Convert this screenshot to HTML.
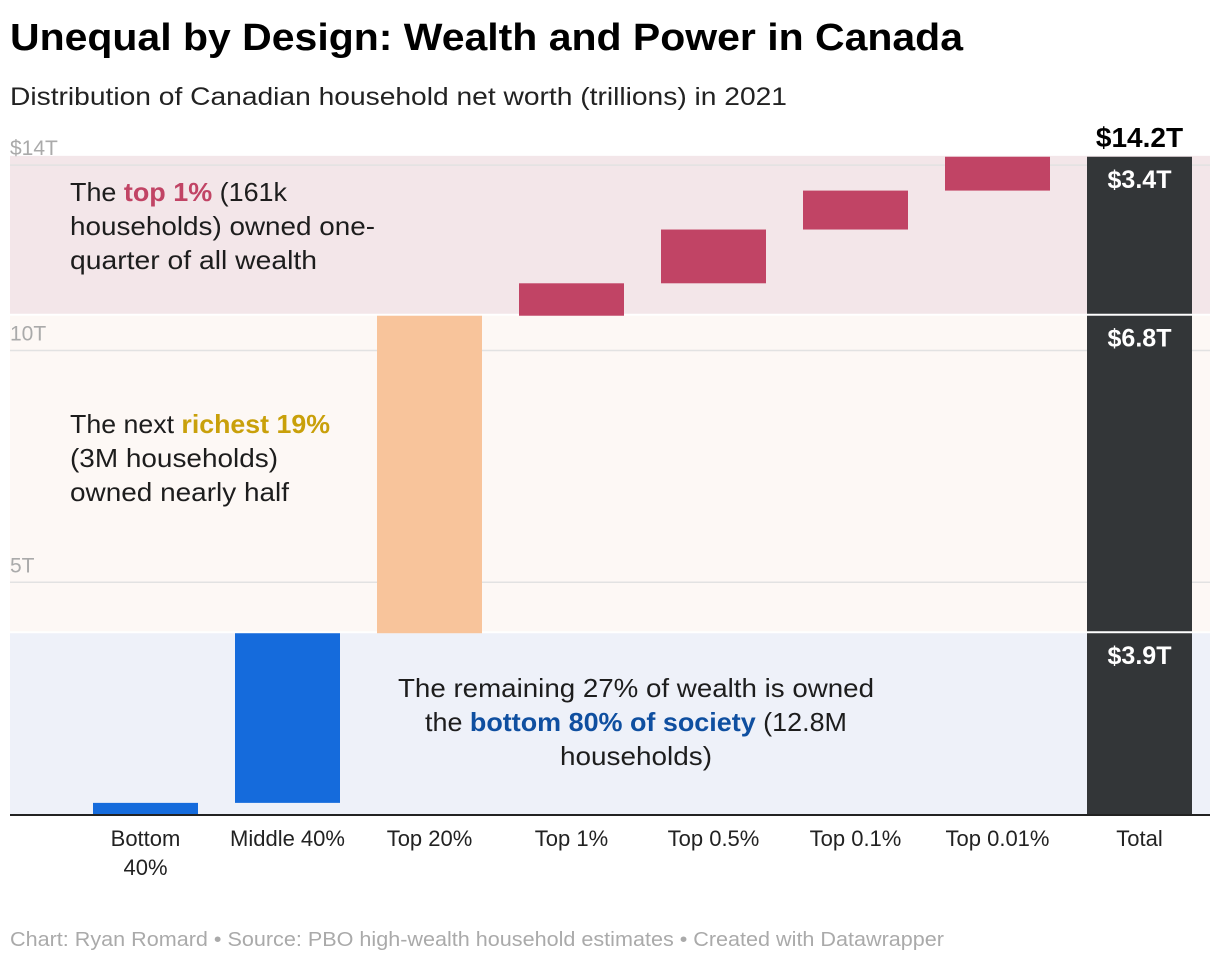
<!DOCTYPE html>
<html><head><meta charset="utf-8"><style>
body{margin:0;background:#fff;font-family:"Liberation Sans",sans-serif;}
</style></head><body>
<svg width="1220" height="964" xmlns="http://www.w3.org/2000/svg" font-family="Liberation Sans, sans-serif">
<text x="10" y="50" font-size="38" font-weight="bold" fill="#000" textLength="953" lengthAdjust="spacingAndGlyphs">Unequal by Design: Wealth and Power in Canada</text>
<text x="10" y="105" font-size="25" fill="#222" textLength="777" lengthAdjust="spacingAndGlyphs">Distribution of Canadian household net worth (trillions) in 2021</text>
<g id="bands"></g>
<g id="grid"></g>
<g id="bars"></g>
<g font-size="26" fill="#1d1d1d">
<text x="70" y="201" textLength="217" lengthAdjust="spacingAndGlyphs">The <tspan fill="#c14465" font-weight="bold">top 1%</tspan> (161k</text>
<text x="70" y="235" textLength="305" lengthAdjust="spacingAndGlyphs">households) owned one-</text>
<text x="70" y="269" textLength="247" lengthAdjust="spacingAndGlyphs">quarter of all wealth</text>
</g>
<g font-size="26" fill="#1d1d1d">
<text x="70" y="433" textLength="260" lengthAdjust="spacingAndGlyphs">The next <tspan fill="#c9a00a" font-weight="bold">richest 19%</tspan></text>
<text x="70" y="467" textLength="208" lengthAdjust="spacingAndGlyphs">(3M households)</text>
<text x="70" y="501" textLength="219" lengthAdjust="spacingAndGlyphs">owned nearly half</text>
</g>
<g font-size="26" fill="#1d1d1d">
<text x="398" y="697" textLength="476" lengthAdjust="spacingAndGlyphs">The remaining 27% of wealth is owned</text>
<text x="425" y="731" textLength="422" lengthAdjust="spacingAndGlyphs">the <tspan fill="#0f4fa0" font-weight="bold">bottom 80% of society</tspan> (12.8M</text>
<text x="560" y="765" textLength="152" lengthAdjust="spacingAndGlyphs">households)</text>
</g>
<g id="xlabels" font-size="22" fill="#222" text-anchor="middle"></g>
<line x1="10" x2="1210" y1="815" y2="815" stroke="#222" stroke-width="2"/>
<text x="10" y="946" font-size="20" fill="#aaa" textLength="934" lengthAdjust="spacingAndGlyphs">Chart: Ryan Romard • Source: PBO high-wealth household estimates • Created with Datawrapper</text>
</svg>
<script>
const categories=["Bottom 40%","Middle 40%","Top 20%","Top 1%","Top 0.5%","Top 0.1%","Top 0.01%","Total"];
const increments=[0.24,3.66,6.85,0.70,1.16,0.84,0.73];
const totalValue=14.18;
const bandLimits=[0,3.9,10.75,14.2];
const bandLabels=["$3.9T","$6.8T","$3.4T"];
const tickValues=[5,10,14];
const tickLabels=["5T","10T","$14T"];
const NS="http://www.w3.org/2000/svg";
const y=v=>814-v*46.35;
const x=i=>93+i*142;
const W=105;
function mk(p,tag,a){const e=document.createElementNS(NS,tag);for(const k in a)e.setAttribute(k,a[k]);document.getElementById(p).appendChild(e);return e;}
const bandColors=["#eef1f9","#fdf8f5","#f3e6e9"];
for(let b=0;b<3;b++){
 const top=y(bandLimits[b+1]),bot=y(bandLimits[b]);
 const r=mk("bands","rect",{x:10,y:top,width:1200,height:bot-top-(b>0?2:0),fill:bandColors[b]});
 
 
}
tickValues.forEach((v,i)=>{
 const l=mk("grid","line",{x1:10,x2:1210,y1:y(v),y2:y(v),stroke:"#e2e2e2","stroke-width":1.5});
 
 
 const t=mk("grid","text",{x:10,y:y(v)-10,"font-size":21,fill:"#aaa"});t.textContent=tickLabels[i];
 
 
});
const barColors=["#156bdc","#156bdc","#f8c49b","#c14465","#c14465","#c14465","#c14465"];
let cum=0;
increments.forEach((d,i)=>{
 const top=y(cum+d),bot=y(cum);cum+=d;
 const r=mk("bars","rect",{x:x(i),y:top,width:W,height:bot-top,fill:barColors[i]});
 
 
});
const tr=mk("bars","rect",{x:x(7),y:y(totalValue),width:W,height:y(0)-y(totalValue),fill:"#333638"});


for(let b=0;b<3;b++){
 if(b>0){const s=mk("bars","rect",{x:x(7),y:y(bandLimits[b])-2,width:W,height:2,fill:"#fff"});
 
 }
 const top=Math.max(y(bandLimits[b+1]),y(totalValue));
 const t=mk("bars","text",{x:x(7)+W/2,y:top+31,"font-size":25,"font-weight":"bold",fill:"#fff","text-anchor":"middle"});
 t.textContent=bandLabels[b];
 
 
}
const tt=mk("bars","text",{x:x(7)+W/2,y:y(totalValue)-10,"font-size":28,"font-weight":"bold",fill:"#000","text-anchor":"middle"});
tt.textContent="$"+totalValue.toFixed(1)+"T";


categories.forEach((c,i)=>{
 const t=mk("xlabels","text",{x:x(i)+W/2,y:846});
 
 
 if(c==="Bottom 40%"){t.innerHTML='<tspan x="'+(x(i)+W/2)+'">Bottom</tspan><tspan x="'+(x(i)+W/2)+'" dy="29">40%</tspan>';}
 else t.textContent=c;
});
</script>
</body></html>
